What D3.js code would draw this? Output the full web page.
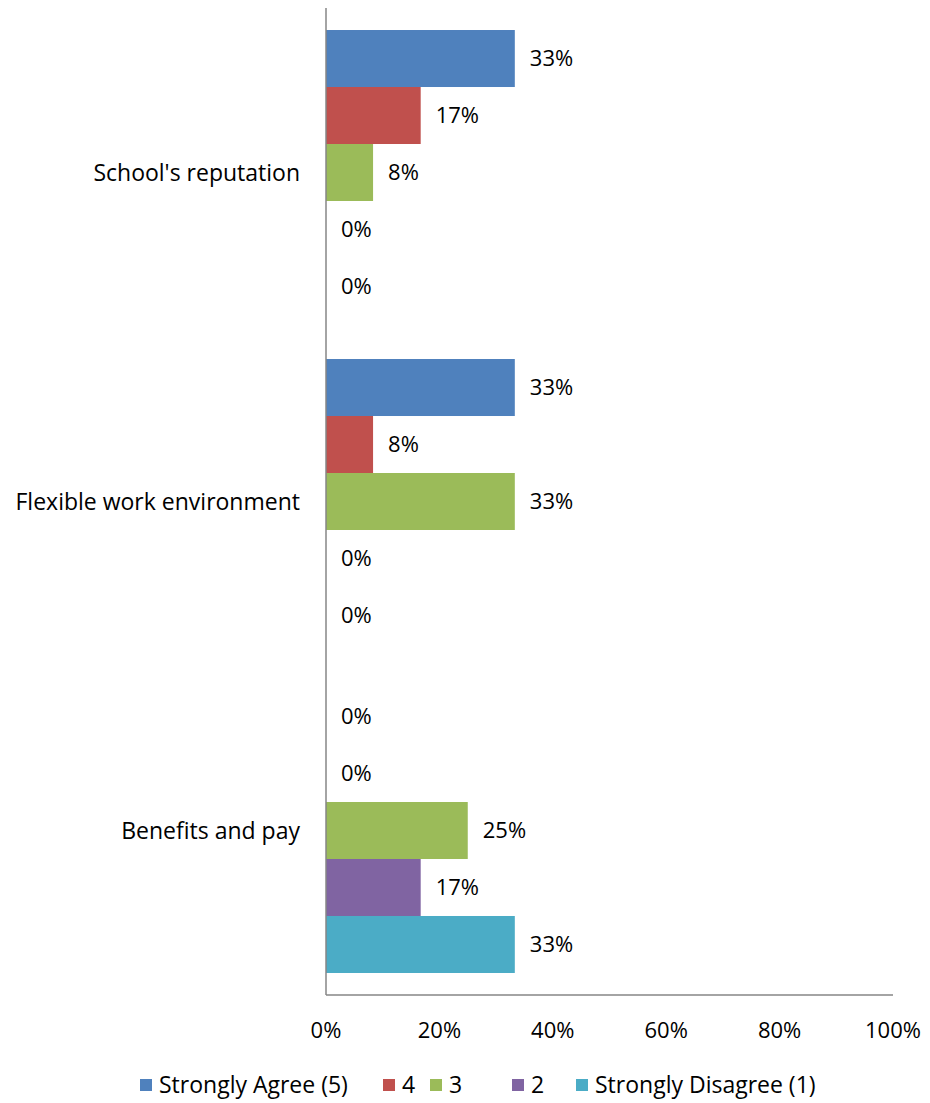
<!DOCTYPE html>
<html>
<head>
<meta charset="utf-8">
<script src="https://cdn.jsdelivr.net/npm/d3@7"></script>
<style>
  body { margin: 0; background: #fff; }
  text { font-family: "Open Sans", "Noto Sans", sans-serif; fill: #000; }
</style>
</head>
<body>
<svg id="svg" width="930" height="1103"></svg>
<script>
// カテゴリ（上から順）
const categories = ["School's reputation", "Flexible work environment", "Benefits and pay"];
const seriesNames = ["Strongly Agree (5)", "4", "3", "2", "Strongly Disagree (1)"];
const seriesColors = ["#4F81BD", "#C0504D", "#9BBB59", "#8064A2", "#4BACC6"];
// 各系列の値（カテゴリ順）
const agree5 = [0.333, 0.333, 0];
const rating4 = [0.167, 0.083, 0];
const rating3 = [0.083, 0.333, 0.25];
const rating2 = [0, 0, 0.167];
const disagree1 = [0, 0, 0.333];
const xTicks = [0, 0.2, 0.4, 0.6, 0.8, 1];

const seriesValues = [agree5, rating4, rating3, rating2, disagree1];

const svg = d3.select("#svg");
const plotLeft = 326, plotRight = 893, plotTop = 8, plotBottom = 995;

const x = d3.scaleLinear().domain([0, 1]).range([plotLeft, plotRight]);
const y0 = d3.scaleBand().domain(categories).range([plotTop, plotBottom]).paddingInner(0.1338).paddingOuter(0.0669);
const y1 = d3.scaleBand().domain(seriesNames).range([0, y0.bandwidth()]);

//棒グラフ
categories.forEach((cat, ci) => {
  const g = svg.append("g").attr("transform", `translate(0,${y0(cat)})`);
  seriesNames.forEach((s, si) => {
    const v = seriesValues[si][ci];
    g.append("rect")
      .attr("x", x(0))
      .attr("y", y1(s))
      .attr("width", x(v) - x(0))
      .attr("height", y1.bandwidth())
      .attr("fill", seriesColors[si]);
    g.append("text")
      .attr("x", x(v) + 15)
      .attr("y", y1(s) + y1.bandwidth() / 2)
      .attr("dy", "0.35em")
      .attr("font-size", 22)
      .text(d3.format(".0%")(v));
  });
  svg.append("text")
    .attr("x", plotLeft - 26)
    .attr("y", y0(cat) + y0.bandwidth() / 2)
    .attr("dy", "0.35em")
    .attr("text-anchor", "end")
    .attr("font-size", 23)
    .text(cat);
});

//軸
svg.append("line").attr("x1", plotLeft).attr("x2", plotLeft).attr("y1", plotTop).attr("y2", plotBottom)
  .attr("stroke", "#868686").attr("stroke-width", 1.5);
svg.append("line").attr("x1", plotLeft).attr("x2", plotRight).attr("y1", plotBottom).attr("y2", plotBottom)
  .attr("stroke", "#868686").attr("stroke-width", 1.5);

svg.selectAll(".xtick").data(xTicks).join("text")
  .attr("class", "xtick")
  .attr("x", d => x(d))
  .attr("y", 1030)
  .attr("dy", "0.35em")
  .attr("text-anchor", "middle")
  .attr("font-size", 22)
  .text(d => d3.format(".0%")(d));

//凡例
const legendX = [140, 383, 430, 512, 576];
const legend = svg.append("g");
seriesNames.forEach((s, i) => {
  legend.append("rect").attr("x", legendX[i]).attr("y", 1079).attr("width", 12).attr("height", 12)
    .attr("fill", seriesColors[i]);
  legend.append("text").attr("x", legendX[i] + 19).attr("y", 1085).attr("dy", "0.35em")
    .attr("font-size", 23).text(s);
});
</script>
</body>
</html>
